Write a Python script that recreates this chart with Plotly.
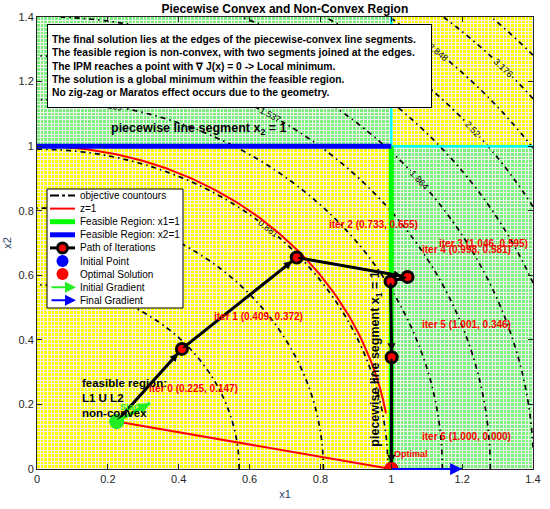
import numpy as np
import plotly.graph_objects as go

# ---------------- data ----------------
iter_x = [0.225, 0.409, 0.733, 1.046, 0.998, 1.001, 1.000]
iter_y = [0.147, 0.372, 0.655, 0.595, 0.581, 0.346, 0.000]
iter_text = ["iter 0 (0.225, 0.147)", "iter 1 (0.409, 0.372)", "iter 2 (0.733, 0.655)",
             "iter 3 (1.046, 0.595)", "iter 4 (0.998, 0.581)", "iter 5 (1.001, 0.346)",
             "iter 6 (1.000, 0.000)"]
init_x, init_y = [0.225], [0.147]
opt_x, opt_y = [1.000], [0.000]
init_grad_x, init_grad_y = [0.225, 0.319], [0.147, 0.204]
final_grad_x, final_grad_y = [1.000, 1.200], [0.000, 0.000]
seg_x2_x, seg_x2_y = [0.0, 1.0], [1.0, 1.0]      # feasible x2 = 1
seg_x1_x, seg_x1_y = [1.0, 1.0], [0.0, 1.0]      # feasible x1 = 1
cyan_h_x, cyan_h_y = [1.0, 1.4], [1.0, 1.0]
cyan_v_x, cyan_v_y = [1.0, 1.0], [1.0, 1.4]
link_x, link_y = [0.225, 1.000], [0.147, 0.000]  # red link start -> optimum
z1_x_end = 0.985                                  # extent of z=1 curve
contour_start, contour_step, contour_end = 0.2255, 0.3278, 4.0
tick_vals = [0, 0.2, 0.4, 0.6, 0.8, 1.0, 1.2, 1.4]
legend_names = ["objective countours", "z=1", "Feasible Region: x1=1", "Feasible Region: x2=1",
                "Path of Iterations", "Initial Point", "Optimal Solution",
                "Initial Gradient", "Final Gradient"]

# region split (x1 = 1, x2 = 1): green where exactly one coordinate exceeds 1
split_x1, split_x2 = 1.0, 1.0
n_cells_x, n_cells_y = 135, 123

FONT = "Liberation Sans, Arial, Helvetica, sans-serif"
YELLOW, GREEN_BG = "#ffff00", "#7cf07c"
GREEN, BLUE, RED = "#00ff00", "#0000ff", "#ff0000"

fig = go.Figure()

# textured background: heatmap with gaps
hx = (np.arange(n_cells_x) + 0.5) * 1.4 / n_cells_x
hy = (np.arange(n_cells_y) + 0.5) * 1.4 / n_cells_y
HX, HY = np.meshgrid(hx, hy)
region = ((HX > split_x1) ^ (HY > split_x2)).astype(int)
fig.add_trace(go.Heatmap(x=hx, y=hy, z=region, colorscale=[[0, YELLOW], [1, GREEN_BG]],
                         zmin=0, zmax=1, showscale=False, xgap=1, ygap=1, hoverinfo="skip"))

# contours
gx = np.linspace(0, 1.4, 141)
gy = np.linspace(0, 1.4, 141)
GX, GY = np.meshgrid(gx, gy)
J = GX**2 + GY**2 - 0.1
fig.add_trace(go.Contour(x=gx, y=gy, z=J, autocontour=False,
                         contours=dict(start=contour_start, end=contour_end, size=contour_step,
                                       coloring="none", showlabels=True,
                                       labelfont=dict(size=9, color="black", family=FONT)),
                         line=dict(color="black", width=1.7, dash="5px,4px,1.5px,4px"),
                         showscale=False, hoverinfo="skip", name=legend_names[0], showlegend=False))

# z = 1 curve
zx = np.linspace(0, z1_x_end, 120)
fig.add_trace(go.Scatter(x=zx, y=np.sqrt(1 - zx**2), mode="lines",
                         line=dict(color=RED, width=2), name=legend_names[1]))

# cyan boundaries
for xs, ys in [(cyan_h_x, cyan_h_y), (cyan_v_x, cyan_v_y)]:
    fig.add_trace(go.Scatter(x=xs, y=ys, mode="lines", line=dict(color="#00ffff", width=2.5),
                             hoverinfo="skip"))

fig.add_trace(go.Scatter(x=seg_x1_x, y=seg_x1_y, mode="lines", line=dict(color=GREEN, width=5),
                         name=legend_names[2]))
fig.add_trace(go.Scatter(x=seg_x2_x, y=seg_x2_y, mode="lines", line=dict(color=BLUE, width=5),
                         name=legend_names[3]))

# red link
fig.add_trace(go.Scatter(x=link_x, y=link_y, mode="lines", line=dict(color=RED, width=2),
                         hoverinfo="skip"))

# path
fig.add_trace(go.Scatter(x=iter_x, y=iter_y, mode="lines+markers",
                         line=dict(color="black", width=3),
                         marker=dict(color=RED, size=11, line=dict(color="black", width=3)),
                         name=legend_names[4]))

# initial point (blue, covered by green start marker)
fig.add_trace(go.Scatter(x=init_x, y=init_y, mode="markers",
                         marker=dict(color=BLUE, size=14), name=legend_names[5]))
fig.add_trace(go.Scatter(x=init_x, y=init_y, mode="markers",
                         marker=dict(color="#22ee22", size=15), hoverinfo="skip"))
fig.add_trace(go.Scatter(x=opt_x, y=opt_y, mode="markers",
                         marker=dict(color=RED, size=14), name=legend_names[6]))

fig.add_trace(go.Scatter(x=init_grad_x, y=init_grad_y, mode="lines",
                         line=dict(color="#22ee22", width=3), name=legend_names[7]))
fig.add_trace(go.Scatter(x=final_grad_x, y=final_grad_y, mode="lines",
                         line=dict(color=BLUE, width=2), name=legend_names[8]))

ann = []
shapes = []
# arrow heads along path
for i in range(1, len(iter_x)):
    ann.append(dict(x=iter_x[i], y=iter_y[i], ax=iter_x[i-1], ay=iter_y[i-1],
                    xref="x", yref="y", axref="x", ayref="y", text="", showarrow=True,
                    arrowhead=2, arrowsize=0.8, arrowwidth=2, arrowcolor="black", standoff=6))
# gradient arrow heads
ann.append(dict(x=init_grad_x[1], y=init_grad_y[1], ax=init_grad_x[0], ay=init_grad_y[0],
                xref="x", yref="y", axref="x", ayref="y", text="", showarrow=True,
                arrowhead=2, arrowsize=0.8, arrowwidth=3, arrowcolor="#22ee22"))
ann.append(dict(x=final_grad_x[1], y=final_grad_y[1], ax=final_grad_x[0], ay=final_grad_y[0],
                xref="x", yref="y", axref="x", ayref="y", text="", showarrow=True,
                arrowhead=2, arrowsize=1.2, arrowwidth=2, arrowcolor=BLUE))

# iteration labels (positions of text only)
label_pos = [(0.310, 0.248), (0.494, 0.471), (0.818, 0.756), (1.129, 0.697),
             (1.081, 0.681), (1.081, 0.449), (1.081, 0.102)]
for (lx, ly), t in zip(label_pos, iter_text):
    ann.append(dict(x=lx, y=ly, xref="x", yref="y", text="<b>" + t + "</b>", showarrow=False,
                    xanchor="left", yanchor="middle", font=dict(color=RED, size=10, family=FONT)))
ann.append(dict(x=1.002, y=0.046, xref="x", yref="y", text="<b>Optimal</b>", showarrow=False,
                xanchor="left", yanchor="middle", font=dict(color=RED, size=9, family=FONT)))
ann.append(dict(x=0.229, y=0.192, xref="x", yref="y", text="<b>Start</b>", showarrow=False,
                xanchor="left", yanchor="middle", font=dict(color="#22ee22", size=9, family=FONT)))
ann.append(dict(x=0.121, y=0.266, xref="x", yref="y",
                text="<b>feasible region:</b><br><b>L1 U L2</b><br><b>non-convex</b>",
                showarrow=False, xanchor="left", yanchor="top", align="left", yshift=8,
                font=dict(color="black", size=11.5, family=FONT)))
ann.append(dict(x=0.203, y=1.053, xref="x", yref="y",
                text="<b>piecewise line segment x<sub>2</sub> = 1</b>", showarrow=False,
                xanchor="left", yanchor="middle", font=dict(color="black", size=12.5, family=FONT)))
ann.append(dict(x=0.958, y=0.34, xref="x", yref="y",
                text="<b>piecewise line segment x<sub>1</sub> = 1</b>", showarrow=False,
                textangle=-90, xanchor="center", yanchor="middle",
                font=dict(color="black", size=12.5, family=FONT)))
box_text = "<br>".join([
    "<b>The final solution lies at the edges of the piecewise-convex line segments.</b>",
    "<b>The feasible region is non-convex, with two segments joined at the edges.</b>",
    "<b>The IPM reaches a point with ∇ J(x) = 0 -> Local minimum.</b>",
    "<b>The solution is a global minimum within the feasible region.</b>",
    "<b>No zig-zag or Maratos effect occurs due to the geometry.</b>"])
ann.append(dict(x=(47 - 37) / 496, y=(469 - 24) / 452, xref="paper", yref="paper", text=box_text,
                showarrow=False, xanchor="left", yanchor="top", align="left", width=375, height=74,
                bgcolor="white", bordercolor="black", borderwidth=1, borderpad=4,
                font=dict(color="black", size=10.3, family=FONT)))

# ---------- legend box (drawn in paper coordinates) ----------
def px(xp):
    return (xp - 37) / 496

def py(yp):
    return (469 - yp) / 452

shapes.append(dict(type="rect", xref="paper", yref="paper", x0=px(47), x1=px(183),
                   y0=py(189), y1=py(308), fillcolor="white", line=dict(color="black", width=1),
                   layer="above"))
row_y = [195.5 + 13.1 * i for i in range(9)]
sx0, sx1 = px(50), px(75)
sym_styles = [("black", 2, "dashdot"), (RED, 2, "solid"), (GREEN, 5, "solid"), (BLUE, 5, "solid"),
              ("black", 3, "solid")]
for i, (c, w, d) in enumerate(sym_styles):
    shapes.append(dict(type="line", xref="paper", yref="paper", x0=sx0, x1=sx1,
                       y0=py(row_y[i]), y1=py(row_y[i]), line=dict(color=c, width=w, dash=d),
                       layer="above"))
# path marker, initial point, optimal solution
for i, (fc, lc, r) in [(4, (RED, "black", 5)), (5, (BLUE, BLUE, 6)), (6, (RED, RED, 6))]:
    shapes.append(dict(type="circle", xref="paper", yref="paper", xsizemode="pixel",
                       ysizemode="pixel", xanchor=px(62.5), yanchor=py(row_y[i]),
                       x0=-r, x1=r, y0=-r, y1=r, fillcolor=fc,
                       line=dict(color=lc, width=3 if i == 4 else 0), layer="above"))
# gradient arrows
for i, (c, w) in [(7, ("#22ee22", 2)), (8, (BLUE, 2))]:
    ann.append(dict(x=px(76), y=py(row_y[i]), xref="paper", yref="paper", ax=-26, ay=0,
                    text="", showarrow=True, arrowhead=2, arrowsize=1.1, arrowwidth=w,
                    arrowcolor=c))
for i, name in enumerate(legend_names):
    ann.append(dict(x=px(78), y=py(row_y[i]), xref="paper", yref="paper", text=name,
                    showarrow=False, xanchor="left", yanchor="middle",
                    font=dict(size=10, family=FONT, color="black")))

axis_common = dict(range=[0, 1.4], tickvals=tick_vals, ticks="inside", ticklen=5,
                   tickcolor="#262626", showline=True, linecolor="#262626", linewidth=1,
                   mirror="ticks", showgrid=False, zeroline=False, automargin=False,
                   tickfont=dict(size=11, family=FONT, color="#262626"))
fig.update_layout(
    width=550, height=509,
    margin=dict(l=37, r=17, t=17, b=40),
    paper_bgcolor="white", plot_bgcolor="#f2f2f2",
    title=dict(text="<b>Piecewise Convex and Non-Convex Region</b>", x=0.518, y=0.982,
               xanchor="center", yanchor="middle", font=dict(size=12, family=FONT, color="black")),
    xaxis=dict(title=dict(text="x1", font=dict(size=11, family=FONT), standoff=6), **axis_common),
    yaxis=dict(title=dict(text="x2", font=dict(size=11, family=FONT), standoff=4), **axis_common),
    showlegend=False,
    annotations=ann,
    shapes=shapes,
)

fig.write_html("out.html", config={"displayModeBar": False},
               post_script="document.body.style.margin='0';document.body.style.overflow='hidden';")
